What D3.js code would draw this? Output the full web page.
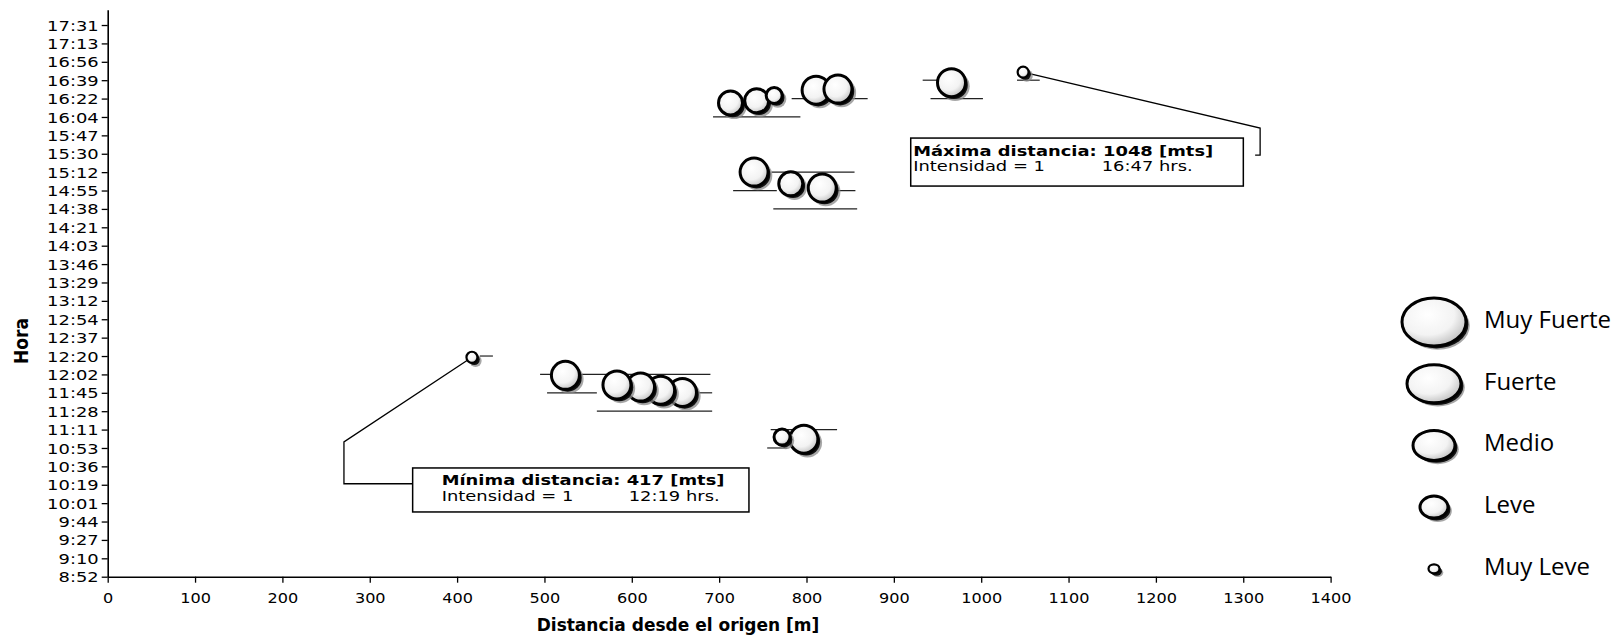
<!DOCTYPE html>
<html>
<head>
<meta charset="utf-8">
<script src="https://cdn.jsdelivr.net/npm/d3@7"></script>
<style>
  body { margin: 0; background: #fff; }
  svg { display: block; }
</style>
</head>
<body>
<svg id="chart" width="1620" height="636"></svg>
<script>
// Bubble chart: distance from origin vs hour of the day, bubble size = intensity.

// One entry per event
const distances   = [713, 743, 763, 811, 836, 966, 1048, 740, 782, 818, 417, 524, 583, 610, 633, 658, 772, 797];
const times       = ["16:18", "16:20", "16:25", "16:30", "16:31", "16:37", "16:47", "15:13", "15:02", "14:58",
                     "12:19", "12:02", "11:53", "11:51", "11:48", "11:46", "11:04", "11:02"];
const intensities = [3, 3, 2, 4, 4, 4, 1, 4, 3, 4, 1, 4, 4, 4, 4, 4, 2, 4];

// Intensity levels (legend)
const levelNames  = ["Muy Fuerte", "Fuerte", "Medio", "Leve", "Muy Leve"];
const levelValues = [5, 4, 3, 2, 1];

// Axis settings (y axis is in fractions of a day, like the spreadsheet)
const X_MIN = 0, X_MAX = 1400, X_STEP = 100;
const Y_MIN = 0.37, Y_MAX = 0.74, Y_STEP = 0.012;

// Pieces of gridline that survived around the bubbles: tick label, from, to (m)
const gridTick = ["16:04", "16:22", "16:22", "16:39", "16:39", "15:12", "14:55", "14:55", "14:38",
                  "12:20", "12:02", "11:45", "11:45", "11:28", "11:11", "10:53"];
const gridFrom = [693, 783, 942, 933, 1041, 760, 716, 815, 762, 426, 495, 503, 677, 560, 759, 755];
const gridTo   = [793, 870, 1002, 953, 1067, 855, 766, 856, 858, 441, 690, 560, 692, 692, 835, 778];

const svg = d3.select("#chart");
const FONT = "'DejaVu Sans', Verdana, sans-serif";

const x = d3.scaleLinear().domain([X_MIN, X_MAX]).range([107.7, 1330.6]);
const y = d3.scaleLinear().domain([Y_MIN, Y_MAX]).range([576.7, 9.7]);
const r = d3.scaleOrdinal().domain([1, 2, 3, 4, 5]).range([5.5, 8, 12, 14, 16]);
const legendRx = d3.scaleOrdinal().domain([1, 2, 3, 4, 5]).range([5.5, 14, 21, 27, 32]);
const legendRy = d3.scaleOrdinal().domain([1, 2, 3, 4, 5]).range([4.5, 11, 15, 19, 24]);

const yTicks = d3.range(Math.round((Y_MAX - Y_MIN) / Y_STEP)).map(i => Y_MIN + i * Y_STEP);
const xTicks = d3.range(X_MIN, X_MAX + 1, X_STEP);

function toDay(s) {
  const [h, m] = s.split(":").map(Number);
  return (h * 60 + m) / 1440;
}
function fmtTime(d) {
  const total = Math.floor(d * 1440 + 1e-6);
  const m = total % 60;
  return Math.floor(total / 60) + ":" + (m < 10 ? "0" + m : m);
}

//Gradient for the 3d look of the bubbles
const defs = svg.append("defs");
const grad = defs.append("radialGradient").attr("id", "bub")
  .attr("cx", "40%").attr("cy", "35%").attr("r", "70%");
grad.append("stop").attr("offset", "0%").attr("stop-color", "#ffffff");
grad.append("stop").attr("offset", "60%").attr("stop-color", "#f3f3f3");
grad.append("stop").attr("offset", "100%").attr("stop-color", "#bdbdbd");

//Gridline remnants
const tickLabels = yTicks.map(fmtTime);
svg.append("g").selectAll("line")
  .data(gridTick.map((t, i) => ({ v: yTicks[tickLabels.indexOf(t)], from: gridFrom[i], to: gridTo[i] })))
  .join("line")
  .attr("x1", d => x(d.from))
  .attr("x2", d => x(d.to))
  .attr("y1", d => y(d.v))
  .attr("y2", d => y(d.v))
  .attr("stroke", "#222")
  .attr("stroke-width", 1.2);

//Axes
const yAxis = svg.append("g")
  .attr("transform", `translate(${x(X_MIN)},0)`)
  .call(d3.axisLeft(y).tickValues(yTicks).tickFormat(fmtTime).tickSize(6).tickSizeOuter(0));
yAxis.selectAll("text")
  .attr("x", null).attr("dy", "0.36em")
  .attr("transform", "translate(-9,0) scale(1.28,1)")
  .attr("font-family", FONT).attr("font-size", 14).attr("fill", "#000");

const xAxis = svg.append("g")
  .attr("transform", `translate(0,${y(Y_MIN)})`)
  .call(d3.axisBottom(x).tickValues(xTicks).tickFormat(d3.format("d")).tickSize(6).tickSizeOuter(0));
xAxis.selectAll("text")
  .attr("y", null).attr("dy", null)
  .attr("transform", "translate(0,26) scale(1.15,1)")
  .attr("font-family", FONT).attr("font-size", 14).attr("fill", "#000");

[yAxis, xAxis].forEach(a => {
  a.select(".domain").attr("stroke", "#000").attr("stroke-width", 1.6);
  a.selectAll(".tick line").attr("stroke", "#000").attr("stroke-width", 1.3);
});

//Axis titles
svg.append("text")
  .attr("x", 678).attr("y", 631)
  .attr("text-anchor", "middle")
  .attr("font-family", FONT).attr("font-weight", "bold").attr("font-size", 17)
  .text("Distancia desde el origen [m]");

svg.append("text")
  .attr("transform", "translate(28,341) rotate(-90)")
  .attr("text-anchor", "middle")
  .attr("font-family", "'Liberation Sans Narrow', 'DejaVu Sans Condensed', sans-serif")
  .attr("font-weight", "bold").attr("font-size", 19)
  .text("Hora");

//Events, biggest first and in time order so the earlier bubble sits on top of its neighbour
const events = distances.map((d, i) => ({ dist: d, time: times[i], t: toDay(times[i]), level: intensities[i] }))
  .sort((a, b) => b.level - a.level || a.t - b.t);

//Callouts for the extremes
const maxEv = events.reduce((a, b) => (b.dist > a.dist ? b : a));
const minEv = events.reduce((a, b) => (b.dist < a.dist ? b : a));

function callout(ev, title, box, path, textPos) {
  const cx = x(ev.dist), cy = y(ev.t);
  const g = svg.append("g");
  g.append("path")
    .attr("d", d3.line()([[cx, cy]].concat(path.map(p => [cx + p[0], cy + p[1]]))))
    .attr("fill", "none").attr("stroke", "#000").attr("stroke-width", 1.3);
  g.append("rect")
    .attr("x", cx + box[0]).attr("y", cy + box[1])
    .attr("width", box[2]).attr("height", box[3])
    .attr("fill", "#fff").attr("stroke", "#000").attr("stroke-width", 1.5);
  const lines = [
    { s: `${title}: ${ev.dist} [mts]`, dx: textPos[0], dy: textPos[2], bold: true },
    { s: `Intensidad = ${ev.level}`, dx: textPos[0], dy: textPos[3], bold: false },
    { s: `${ev.time} hrs.`, dx: textPos[1], dy: textPos[3], bold: false }
  ];
  lines.forEach(l => {
    g.append("text")
      .attr("transform", `translate(${cx + box[0] + l.dx},${cy + box[1] + l.dy}) scale(1.28,1)`)
      .attr("font-family", FONT).attr("font-size", 14)
      .attr("font-weight", l.bold ? "bold" : "normal")
      .text(l.s);
  });
}

callout(maxEv, "Máxima distancia", [-112.4, 66, 332.6, 48],
  [[237, 56], [237, 83], [232, 83]], [2.5, 191, 18, 33]);
callout(minEv, "Mínima distancia", [-59.3, 110.7, 336.3, 44],
  [[-128, 84.7], [-128, 126.5], [-59.3, 126.5]], [29, 216, 17.5, 33.5]);

//Bubbles
const bub = svg.append("g").selectAll("g")
  .data(events)
  .join("g")
  .attr("transform", d => `translate(${x(d.dist)},${y(d.t)})`);

bub.append("circle")
  .attr("cx", 3.6).attr("cy", 3.6)
  .attr("r", d => r(d.level) + 0.6)
  .attr("fill", "#8a8a8a").attr("opacity", 0.75);
bub.append("circle")
  .attr("cx", 2.3).attr("cy", 2.3)
  .attr("r", d => r(d.level))
  .attr("fill", "#111");
bub.append("circle")
  .attr("r", d => r(d.level))
  .attr("fill", "url(#bub)")
  .attr("stroke", "#000")
  .attr("stroke-width", d => (d.level === 1 ? 2.2 : 3));

//Legend
const legend = svg.append("g").selectAll("g")
  .data(levelNames.map((n, i) => ({ name: n, level: levelValues[i] })))
  .join("g")
  .attr("transform", (d, i) => `translate(0,${328 + i * 61.7})`);

legend.append("ellipse")
  .attr("cx", 1434 + 3.8).attr("cy", -6 + 3.8)
  .attr("rx", d => legendRx(d.level)).attr("ry", d => legendRy(d.level))
  .attr("fill", "#8a8a8a").attr("opacity", 0.75);
legend.append("ellipse")
  .attr("cx", 1434 + 2.4).attr("cy", -6 + 2.4)
  .attr("rx", d => legendRx(d.level)).attr("ry", d => legendRy(d.level))
  .attr("fill", "#111");
legend.append("ellipse")
  .attr("cx", 1434).attr("cy", -6)
  .attr("rx", d => legendRx(d.level)).attr("ry", d => legendRy(d.level))
  .attr("fill", "url(#bub)")
  .attr("stroke", "#000")
  .attr("stroke-width", d => (d.level === 1 ? 2.2 : 3));

legend.append("text")
  .attr("x", 1484).attr("y", 0)
  .attr("font-family", "'Open Sans', 'Noto Sans', sans-serif")
  .attr("font-size", 24)
  .text(d => d.name);
</script>
</body>
</html>
